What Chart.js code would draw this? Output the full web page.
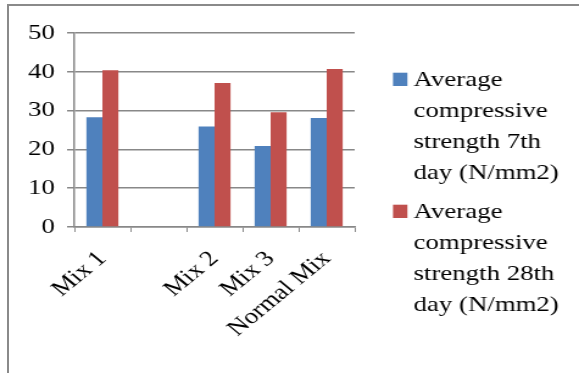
<!DOCTYPE html>
<html>
<head>
<meta charset="utf-8">
<script src="https://cdn.jsdelivr.net/npm/chart.js@4"></script>
<style>
  html, body { margin: 0; padding: 0; background: #fff; }
  #wrap { position: relative; width: 579px; height: 373px; overflow: hidden; }
  #frame { position: absolute; left: 7px; top: 4px; width: 600px; height: 400px;
           border-top: 2px solid #8a8a8a; border-left: 2px solid #8a8a8a; box-sizing: border-box; }
  #c { position: absolute; left: 0; top: 0; }
</style>
</head>
<body>
<div id="wrap">
  <div id="frame"></div>
  <canvas id="c" width="475" height="373" style="width:579px;height:373px"></canvas>
</div>
<script>
const categories = ["Mix 1", "", "Mix 2", "Mix 3", "Normal Mix"];
const day7 = [28.3, null, 25.9, 20.9, 28.1];
const day28 = [40.4, null, 37.1, 29.6, 40.7];
const seriesNames = [
  ["Average", "compressive", "strength 7th", "day (N/mm2)"],
  ["Average", "compressive", "strength 28th", "day (N/mm2)"]
];
const yTicks = [0, 10, 20, 30, 40, 50];

const FONT = "'Liberation Serif', 'Times New Roman', serif";

const legendPlugin = {
  id: 'sideLegend',
  afterDraw(chart) {
    const ctx = chart.ctx;
    ctx.save();
    ctx.font = "22px " + FONT;
    ctx.textBaseline = 'alphabetic';
    const x0 = 322.4, textX = 339.3;
    const lineH = 31;
    let y = 86;
    chart.data.datasets.forEach((ds) => {
      const lines = ds.label;
      ctx.fillStyle = ds.backgroundColor;
      ctx.fillRect(x0, y - 13.3, 11.8, 13.3);
      ctx.fillStyle = '#000';
      lines.forEach((ln, k) => ctx.fillText(ln, textX, y + k * lineH));
      y += lines.length * lineH + 8;
    });
    ctx.restore();
  }
};

new Chart(document.getElementById('c'), {
  type: 'bar',
  data: {
    labels: categories,
    datasets: [
      { label: seriesNames[0], data: day7, backgroundColor: '#4f81bd' },
      { label: seriesNames[1], data: day28, backgroundColor: '#c0504d' }
    ]
  },
  options: {
    responsive: false,
    animation: false,
    layout: { padding: { left: 13, right: 184, top: 33, bottom: 17 } },
    plugins: { legend: { display: false }, tooltip: { enabled: false } },
    datasets: { bar: { categoryPercentage: 0.57, barPercentage: 1.0 } },
    scales: {
      x: {
        grid: { drawOnChartArea: false, drawTicks: true, tickLength: 5, color: '#888', offset: true },
        border: { display: true, color: '#888', width: 1.5 },
        ticks: {
          font: { family: FONT, size: 22 }, color: '#000',
          maxRotation: 45, minRotation: 45, autoSkip: false, padding: 14
        }
      },
      y: {
        min: 0, max: 50,
        afterBuildTicks(axis) { axis.ticks = yTicks.map(v => ({ value: v })); },
        grid: { color: '#888', lineWidth: 1.5, tickLength: 6 },
        border: { display: true, color: '#888', width: 1.5 },
        ticks: { font: { family: FONT, size: 22 }, color: '#000', padding: 10 }
      }
    }
  },
  plugins: [legendPlugin]
});
</script>
</body>
</html>
